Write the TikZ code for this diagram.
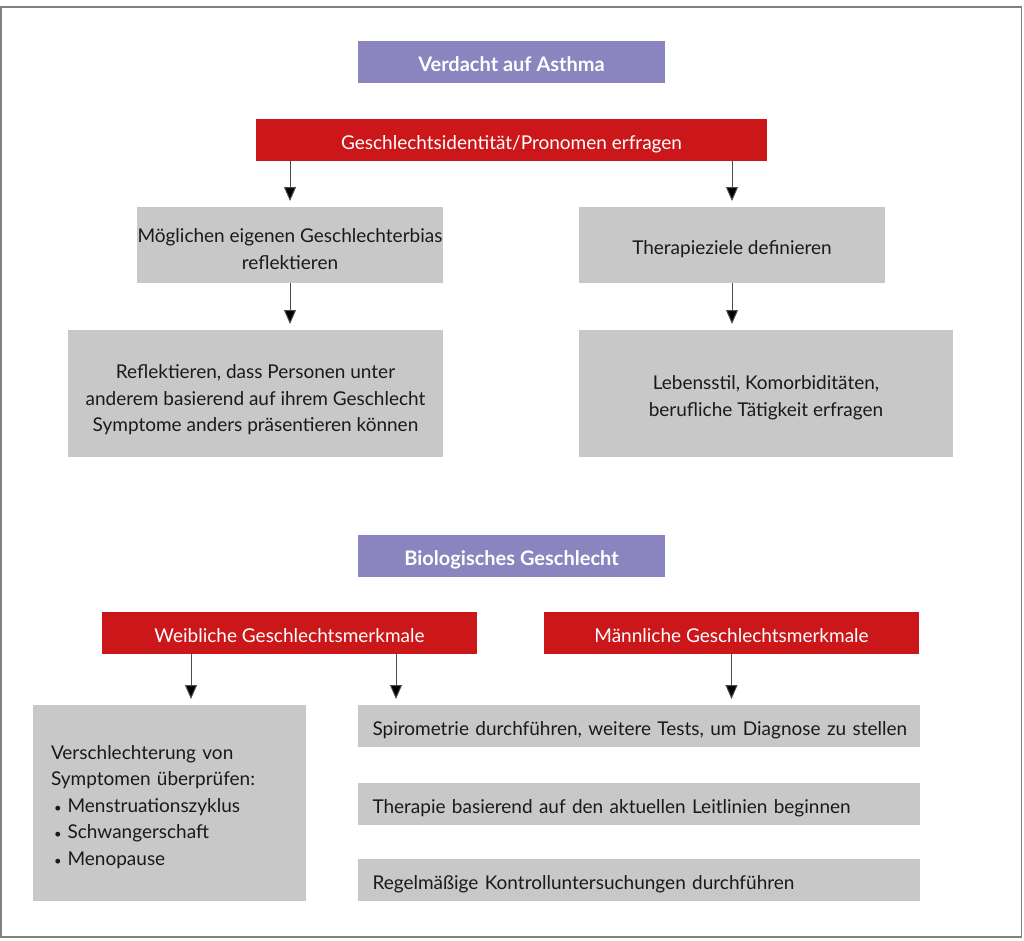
\documentclass[tikz,border=0pt]{standalone}
\usepackage{fontspec}
\setmainfont{Lato}
\usetikzlibrary{arrows.meta,positioning}
\definecolor{purp}{HTML}{8A84BF}
\definecolor{redb}{HTML}{CC171A}
\definecolor{grayb}{HTML}{C8C8C8}
\definecolor{frame}{HTML}{808080}
\definecolor{txt}{HTML}{1A1A1A}
\newcommand{\smbul}{\hspace*{3pt}{\fontsize{13}{13}\selectfont\textbullet}\hspace{6pt}}
\newcommand{\topgap}[1]{\rule{0pt}{#1}}
\tikzset{
  base/.style={inner sep=0pt, outer sep=0pt, font=\fontsize{19}{26.5}\selectfont},
  oneline/.style={text height=22pt, text depth=3pt},
  purplebox/.style={base, oneline, fill=purp, text=white, font=\fontsize{20}{26}\selectfont\bfseries, minimum width=307pt, minimum height=42pt},
  redbox/.style={base, oneline, fill=redb, text=white, minimum height=42pt},
  graybox/.style={base, fill=grayb, text=txt, align=center},
  leftbox/.style={base, oneline, fill=grayb, text=txt, align=left, minimum width=562pt, minimum height=42pt, text width=547pt},
  arr/.style={draw=black!70, line width=1pt, -{Triangle[width=12pt,length=14pt,fill=black]}, shorten >=6pt}
}
\begin{document}
\begin{tikzpicture}[x=1pt,y=-1pt]
\useasboundingbox (0,0) rectangle (1024,940);
\draw[frame, line width=1.5pt] (0.75,7) rectangle (1021.25,937);

\node[purplebox] (p1) at (511.5,62) {Verdacht auf Asthma};
\node[redbox, minimum width=511pt] (r1) at (511.5,140) {Geschlechtsidentität/Pronomen erfragen};
\node[graybox, minimum width=306pt, minimum height=76pt] (a) at (290,245) {\topgap{22pt}Möglichen eigenen Geschlechterbias\\reflektieren};
\node[graybox, oneline, minimum width=306pt, minimum height=76pt] (b) at (732,245) {Therapieziele definieren};
\node[graybox, minimum width=375pt, minimum height=127pt] (c) at (255.5,393.5) {\topgap{27pt}Reflektieren, dass Personen unter\\anderem basierend auf ihrem Geschlecht\\Symptome anders präsentieren können};
\node[graybox, minimum width=374pt, minimum height=127pt] (d) at (766,393.5) {\topgap{22pt}Lebensstil, Komorbiditäten,\\berufliche Tätigkeit erfragen};

\node[purplebox] (p2) at (511.5,556) {Biologisches Geschlecht};
\node[redbox, minimum width=375pt] (w) at (289.5,633) {Weibliche Geschlechtsmerkmale};
\node[redbox, minimum width=375pt] (m) at (731.5,633) {Männliche Geschlechtsmerkmale};
\node[graybox, align=left, minimum width=273pt, minimum height=196pt, text width=237pt] (e) at (169.5,803) {\topgap{22pt}Verschlechterung von\\Symptomen überprüfen:\\\smbul Menstruationszyklus\\\smbul Schwangerschaft\\\smbul Menopause};
\node[leftbox] (s1) at (639,726) {\hspace*{7pt}Spirometrie durchführen, weitere Tests, um Diagnose zu stellen};
\node[leftbox] (s2) at (639,804) {\hspace*{7pt}Therapie basierend auf den aktuellen Leitlinien beginnen};
\node[leftbox] (s3) at (639,880) {\hspace*{7pt}Regelmäßige Kontrolluntersuchungen durchführen};

\draw[arr] (r1.south -| a.north) -- (a.north);
\draw[arr] (r1.south -| b.north) -- (b.north);
\draw[arr] (a.south) -- (a.south |- c.north);
\draw[arr] (b.south) -- (b.south |- d.north);
\coordinate (w1) at ([xshift=89pt]w.south west);
\coordinate (w2) at ([xshift=294pt]w.south west);
\draw[arr] (w1) -- (w1 |- e.north);
\draw[arr] (w2) -- (w2 |- s1.north);
\draw[arr] (m.south) -- (m.south |- s1.north);
\end{tikzpicture}
\end{document}
